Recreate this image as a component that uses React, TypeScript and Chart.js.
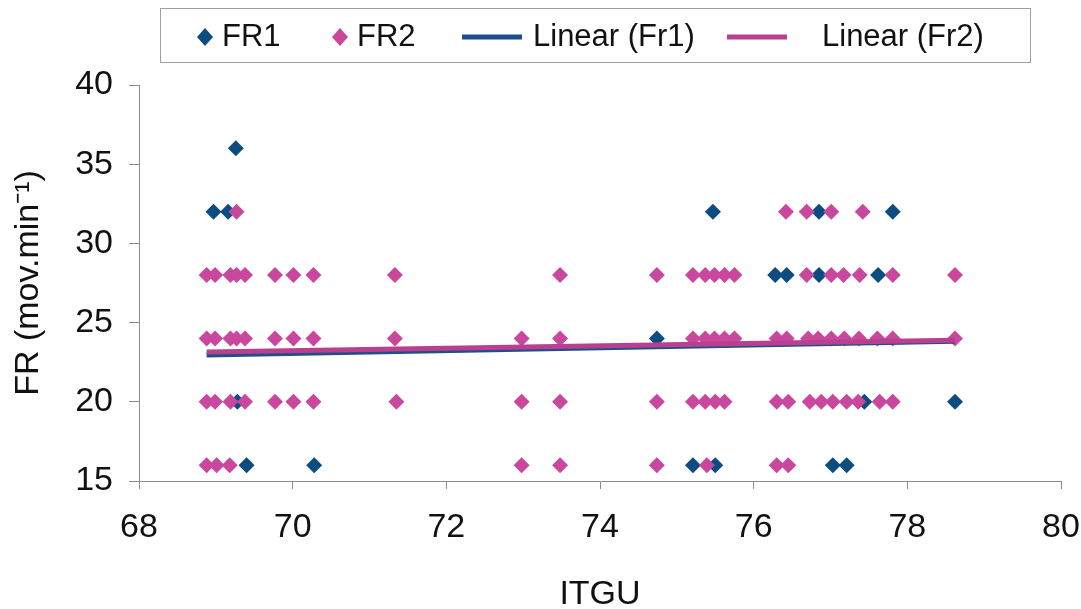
import React, { useEffect, useRef } from 'react';
import { Chart, registerables } from 'chart.js';

Chart.register(...registerables);

// FR1 series (ITGU, FR)
const fr1X = [69.26, 68.97, 69.16, 69.28, 69.40, 70.28, 74.74, 75.47, 75.21, 75.50, 76.28, 76.43, 76.85, 76.85, 77.81, 77.62, 77.44, 77.03, 77.21, 78.62];
const fr1Y = [36, 32, 32, 20, 16, 16, 24, 32, 16, 16, 28, 28, 32, 28, 32, 28, 20, 16, 16, 20];

// FR2 series, grouped by FR level
const fr2X32 = [69.27, 76.42, 76.69, 77.01, 77.42];
const fr2X28 = [68.88, 68.99, 69.19, 69.27, 69.38, 69.77, 70.01, 70.27, 71.33, 73.48, 74.74, 75.21, 75.37, 75.49, 75.62, 75.75, 76.69, 77.01, 77.17, 77.38, 77.81, 78.62];
const fr2X24 = [68.88, 68.99, 69.19, 69.27, 69.38, 69.77, 70.01, 70.27, 71.33, 72.98, 73.48, 75.21, 75.37, 75.49, 75.62, 75.75, 76.30, 76.43, 76.71, 76.84, 77.01, 77.18, 77.37, 77.61, 77.81, 78.62];
const fr2X20 = [68.88, 68.99, 69.19, 69.38, 69.77, 70.01, 70.27, 71.35, 72.98, 73.48, 74.74, 75.21, 75.37, 75.50, 75.62, 76.30, 76.45, 76.73, 76.88, 77.03, 77.21, 77.36, 77.64, 77.81];
const fr2X16 = [68.88, 69.01, 69.18, 72.98, 73.48, 74.74, 75.39, 76.30, 76.45];
const fr2Levels = [32, 28, 24, 20, 16];

// Linear trendlines (endpoints)
const trendX = [68.88, 78.62];
const trendFr1Y = [22.95, 23.82];
const trendFr2Y = [23.15, 23.88];

const xTicks = [68, 70, 72, 74, 76, 78, 80];
const yTicks = [15, 20, 25, 30, 35, 40];

const seriesNames = ['FR1', 'FR2', 'Linear (Fr1)', 'Linear (Fr2)'];
const xTitle = 'ITGU';
const yTitle = 'FR (mov.min\u207B\u00B9)';

const C_FR1 = '#0C4C80';
const C_FR2 = '#C9479C';
const C_T1 = '#1D4F8A';
const C_T2 = '#B8408F';

const FONT = "'Liberation Sans', Arial, sans-serif";

export default function App() {
  const ref = useRef<HTMLCanvasElement>(null);

  useEffect(() => {
    if (!ref.current) return;
    const fr1 = fr1X.map((x, i) => ({ x, y: fr1Y[i] }));
    const fr2Groups = [fr2X32, fr2X28, fr2X24, fr2X20, fr2X16];
    const fr2: { x: number; y: number }[] = [];
    fr2Groups.forEach((xs, gi) => xs.forEach((x) => fr2.push({ x, y: fr2Levels[gi] })));
    const t1 = trendX.map((x, i) => ({ x, y: trendFr1Y[i] }));
    const t2 = trendX.map((x, i) => ({ x, y: trendFr2Y[i] }));

    const legendPlugin = {
      id: 'boxLegend',
      afterDraw(chart: any) {
        const ctx = chart.ctx as CanvasRenderingContext2D;
        ctx.save();
        ctx.strokeStyle = '#a0a0a0';
        ctx.lineWidth = 1;
        ctx.strokeRect(160.5, 8.5, 870, 54);
        const cy = 37;
        const diamond = (cx: number, color: string) => {
          ctx.beginPath();
          ctx.moveTo(cx - 8, cy);
          ctx.lineTo(cx, cy - 9);
          ctx.lineTo(cx + 8, cy);
          ctx.lineTo(cx, cy + 9);
          ctx.closePath();
          ctx.fillStyle = color;
          ctx.fill();
        };
        const line = (x1: number, x2: number, color: string) => {
          ctx.beginPath();
          ctx.moveTo(x1, cy);
          ctx.lineTo(x2, cy);
          ctx.strokeStyle = color;
          ctx.lineWidth = 5;
          ctx.stroke();
        };
        ctx.font = `31px ${FONT}`;
        ctx.textBaseline = 'middle';
        ctx.textAlign = 'left';
        diamond(205, C_FR1);
        ctx.fillStyle = '#111';
        ctx.fillText(seriesNames[0], 222, cy);
        diamond(340, C_FR2);
        ctx.fillStyle = '#111';
        ctx.fillText(seriesNames[1], 357, cy);
        line(462, 522, C_T1);
        ctx.fillStyle = '#111';
        ctx.fillText(seriesNames[2], 533, cy);
        line(727, 787, C_T2);
        ctx.fillStyle = '#111';
        ctx.fillText(seriesNames[3], 822, cy);
        ctx.restore();
      },
    };

    const tickFont = { family: FONT, size: 34 };

    const chart = new Chart(ref.current, {
      type: 'scatter',
      data: {
        datasets: [
          {
            label: seriesNames[3], type: 'line', data: t2, order: 0,
            borderColor: C_T2, borderWidth: 5, pointRadius: 0, fill: false,
          },
          {
            label: seriesNames[2], type: 'line', data: t1, order: 1,
            borderColor: C_T1, borderWidth: 5, pointRadius: 0, fill: false,
          },
          {
            label: seriesNames[1], data: fr2, order: 2,
            pointStyle: 'rectRot', pointRadius: 8, pointBorderWidth: 0,
            backgroundColor: C_FR2, borderColor: C_FR2,
          },
          {
            label: seriesNames[0], data: fr1, order: 3,
            pointStyle: 'rectRot', pointRadius: 8, pointBorderWidth: 0,
            backgroundColor: C_FR1, borderColor: C_FR1,
          },
        ],
      },
      options: {
        responsive: false,
        animation: false,
        layout: { padding: { top: 85, right: 20, left: 0, bottom: 0 } },
        plugins: { legend: { display: false }, tooltip: { enabled: false } },
        scales: {
          x: {
            type: 'linear', min: 68, max: 80,
            afterFit: (s: any) => { s.height = 128; s.paddingRight = 0; s.paddingLeft = 0; },
            afterBuildTicks: (s: any) => { s.ticks = xTicks.map((v) => ({ value: v })); },
            grid: { drawOnChartArea: false, tickLength: 8, color: '#8c8c8c' },
            border: { color: '#8c8c8c', width: 1 },
            ticks: { font: tickFont, color: '#111', padding: 18, maxRotation: 0 },
            title: { display: true, text: xTitle, font: { family: FONT, size: 34, lineHeight: 1 }, color: '#111', padding: { top: 0, bottom: -3 } },
          },
          y: {
            type: 'linear', min: 15, max: 40,
            afterFit: (s: any) => { s.width = 139; s.paddingTop = 0; s.paddingBottom = 0; },
            afterBuildTicks: (s: any) => { s.ticks = yTicks.map((v) => ({ value: v })); },
            grid: { drawOnChartArea: false, tickLength: 10, color: '#8c8c8c' },
            border: { color: '#8c8c8c', width: 1 },
            ticks: { font: tickFont, color: '#111', padding: 16 },
            title: { display: true, text: yTitle, font: { family: FONT, size: 34, lineHeight: 1 }, color: '#111', padding: { top: 12, bottom: 0 } },
          },
        },
      },
      plugins: [legendPlugin],
    } as any);
    return () => chart.destroy();
  }, []);

  return (
    <div style={{ position: 'fixed', left: 0, top: 0, width: 1081, height: 609, background: '#fff' }}>
      <canvas ref={ref} width={1081} height={609} style={{ display: 'block' }} />
    </div>
  );
}
